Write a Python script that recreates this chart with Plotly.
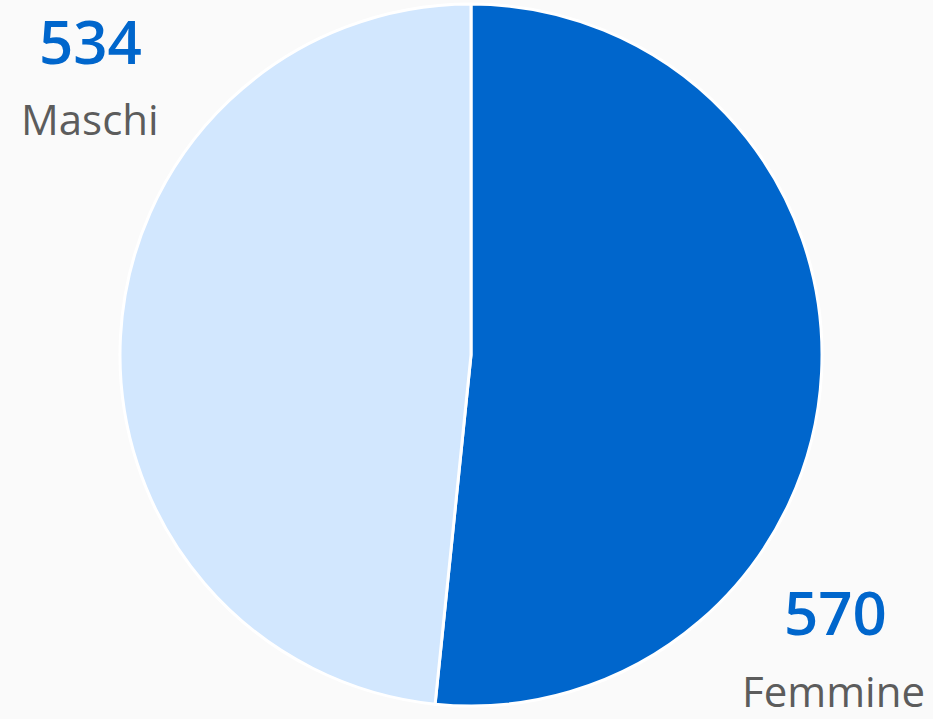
import plotly.graph_objects as go

labels = ["Femmine", "Maschi"]
values = [570, 534]
colors = ["#0066cc", "#d2e7fe"]

W, H = 933, 719

fig = go.Figure(go.Pie(
    labels=labels,
    values=values,
    sort=False,
    direction="clockwise",
    rotation=0,
    marker=dict(colors=colors, line=dict(color="#ffffff", width=3)),
    textinfo="none",
    hoverinfo="label+value",
    domain=dict(x=[120 / W, 822 / W], y=[1 - 706 / H, 1 - 4 / H]),
    showlegend=False,
))

# label positions in pixels (number, name)
pos = {"Maschi": ((90, 41), (90, 118)), "Femmine": ((835, 612), (833, 690))}
ann = []
for lab, val in zip(labels, values):
    (nx, ny), (lx, ly) = pos[lab]
    ann.append(dict(text=str(val), x=nx / W, y=1 - ny / H, xref="paper", yref="paper",
                    showarrow=False, xanchor="center", yanchor="middle",
                    font=dict(family="Open Sans", size=60, color="#0066cc", weight=600)))
    ann.append(dict(text=lab, x=lx / W, y=1 - ly / H, xref="paper", yref="paper",
                    showarrow=False, xanchor="center", yanchor="middle",
                    font=dict(family="Open Sans", size=42, color="#5c5c5c")))

fig.update_layout(
    width=W, height=H,
    margin=dict(l=0, r=0, t=0, b=0),
    paper_bgcolor="#fafafa",
    plot_bgcolor="#fafafa",
    annotations=ann,
)

fig.write_html("out.html", config={"displayModeBar": False},
               post_script="document.body.style.margin='0';document.body.style.background='#fafafa';")
